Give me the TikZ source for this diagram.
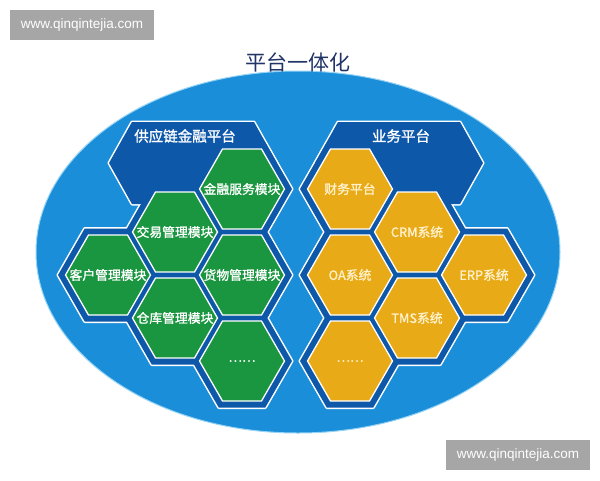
\documentclass[tikz,border=0pt]{standalone}
\usepackage{fontspec}
\setmainfont{Liberation Sans}
\newfontfamily\cjk{Noto Sans CJK SC}
\newfontfamily\cjkbold[FakeBold=1.2]{Noto Sans CJK SC}
\usepackage{tikz}
\definecolor{sky}{RGB}{27,142,217}
\definecolor{rimblue}{RGB}{150,212,245}
\definecolor{deepblue}{RGB}{14,88,170}
\definecolor{leaf}{RGB}{26,150,64}
\definecolor{gold}{RGB}{233,170,23}
\definecolor{cream}{RGB}{255,242,205}
\definecolor{navy}{RGB}{32,52,104}
\definecolor{mark}{RGB}{166,166,166}
% hexagon: centre x, centre y, half width, half top edge, half height
\newcommand{\hexpath}[5]{(#1-#3,#2)--(#1-#4,#2-#5)--(#1+#4,#2-#5)--(#1+#3,#2)--(#1+#4,#2+#5)--(#1-#4,#2+#5)--cycle}
\tikzset{
  cellfont/.style={font=\cjkbold\fontsize{12.8}{15}\selectfont},
  platfont/.style={font=\cjkbold\fontsize{14.5}{17}\selectfont,text=white},
  markbox/.style={fill=mark,text=white,font=\fontsize{13.5}{16}\selectfont,
    minimum width=144,minimum height=30,inner sep=0pt}
}

\begin{document}
\begin{tikzpicture}[x=1pt,y=-1pt]
\useasboundingbox (0,0) rectangle (600,480);
\fill[white] (0,0) rectangle (600,480);
\fill[sky,draw=rimblue,line width=1pt] (298,252) ellipse [x radius=262,y radius=181];
% dark blue frames, white rim outside only
\foreach \x/\y in {242/189,175/232,108/275,242/275,175/318,242/361,
                   350/189,417/232,350/275,484/275,417/318,350/361}
  \draw[white,line width=3pt,line join=round] \hexpath{\x}{\y}{50}{23.3}{46.5};
\draw[white,line width=3pt,line join=round] \hexpath{193}{163}{84}{61}{41};
\draw[white,line width=3pt,line join=round] \hexpath{399}{163}{84}{61}{41};
\foreach \x/\y in {242/189,175/232,108/275,242/275,175/318,242/361,
                   350/189,417/232,350/275,484/275,417/318,350/361}
  \fill[deepblue] \hexpath{\x}{\y}{50}{23.3}{46.5};
\fill[deepblue] \hexpath{193}{163}{84}{61}{41};
\fill[deepblue] \hexpath{399}{163}{84}{61}{41};
\path (185,136) node (scf) [platfont] {供应链金融平台};
\path (401,136) node (biz) [platfont] {业务平台};
% cells
\foreach \x/\y/\n/\t in {242/189/jr/金融服务模块,175/232/jy/交易管理模块,
    108/275/kh/客户管理模块,242/275/hw/货物管理模块,175/318/ck/仓库管理模块,242/361/ld/……}{
  \filldraw[fill=leaf,draw=white,line width=1.3pt] \hexpath{\x}{\y}{42.5}{19.5}{40};
  \path (\x,\y) node (\n) [cellfont,text=white] {\t};
}
\foreach \x/\y/\n/\t in {350/189/cw/财务平台,417/232/crm/CRM系统,
    350/275/oa/OA系统,484/275/erp/ERP系统,417/318/tms/TMS系统,350/361/rd/……}{
  \filldraw[fill=gold,draw=white,line width=1.3pt] \hexpath{\x}{\y}{42.5}{19.5}{40};
  \path (\x,\y) node (\n) [cellfont,text=cream] {\t};
}
\path (298,62) node (title) [font=\cjk\fontsize{21}{25}\selectfont,text=navy] {平台一体化};
\path (82,25) node (wmtop) [markbox] {www.qinqintejia.com};
\path (518,455) node (wmbot) [markbox] {www.qinqintejia.com};
\end{tikzpicture}
\end{document}
